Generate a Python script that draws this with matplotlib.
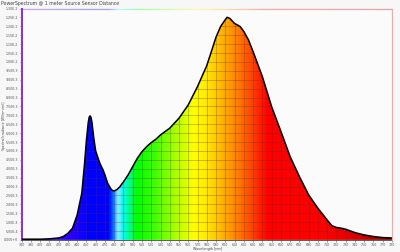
import matplotlib

matplotlib.use("Agg")
import matplotlib.pyplot as plt
import numpy as np
from matplotlib.colors import LinearSegmentedColormap
from matplotlib.patches import Polygon
from matplotlib.collections import LineCollection

# spectrum (wavelength nm, W/(m^2 nm))
wavelength = [380, 390, 400, 410, 420, 425, 430, 435, 440, 445, 448, 450, 452,
              453, 454, 455, 456, 458, 460, 463, 465, 468, 470, 473, 476, 478,
              480, 483, 486, 490, 495, 500, 505, 510, 515, 520, 525, 530, 540,
              550, 560, 570, 580, 590, 595, 600, 602, 605, 610, 613, 616, 620,
              625, 630, 640, 650, 660, 670, 680, 690, 700, 710, 715, 720, 725,
              730, 740, 750, 760, 770, 780]
irradiance = [0.00004, 0.00004, 0.00004, 0.00006, 0.00011, 0.00019, 0.00037,
              0.00066, 0.00140, 0.00262, 0.00430, 0.00560, 0.00660, 0.00690,
              0.00697, 0.00688, 0.00660, 0.00570, 0.00500, 0.00452, 0.00425,
              0.00393, 0.00365, 0.00318, 0.00290, 0.00278, 0.00275, 0.00283,
              0.00298, 0.00326, 0.00365, 0.00412, 0.00459, 0.00496, 0.00524,
              0.00547, 0.00566, 0.00590, 0.00628, 0.00684, 0.00759, 0.00862,
              0.00980, 0.01140, 0.01200, 0.01238, 0.01251, 0.01244, 0.01216,
              0.01208, 0.01199, 0.01171, 0.01124, 0.01058, 0.00918, 0.00749,
              0.00610, 0.00468, 0.00356, 0.00253, 0.00178, 0.00112, 0.00080,
              0.00070, 0.00066, 0.00060, 0.00041, 0.00028, 0.00019, 0.00013,
              0.00011]

x_ticks = list(range(380, 790, 10))
y_ticks = [i * 5e-4 for i in range(27)]

title = "PowerSpectrum @ 1 meter Source Sensor Distance"
x_label = "Wavelength [nm]"
y_label = "Spectral Irradiance [W/(m\u00b2\u00b7nm)]"

# colour stops for the visible spectrum
spectrum_stops = [
    (380, "#6a00c8"), (420, "#3a00ff"), (440, "#1800ff"), (450, "#0000ff"),
    (473, "#0000ff"), (478, "#0070ff"), (483, "#90eaff"), (488, "#00ffff"),
    (495, "#00ff90"), (503, "#00ff00"), (520, "#30ff00"), (545, "#a8ff00"),
    (565, "#ffff00"), (578, "#ffec00"), (592, "#ffc000"), (607, "#ff9000"),
    (625, "#ff5000"), (645, "#ff0000"), (705, "#ff0000"), (740, "#dd0000"),
    (780, "#8a0000"),
]


def spectrum_cmap():
    lo, hi = spectrum_stops[0][0], spectrum_stops[-1][0]
    stops = [((w - lo) / (hi - lo), c) for w, c in spectrum_stops]
    return LinearSegmentedColormap.from_list("spectrum", stops)


def sci_label(t):
    if t == 0:
        return "0.00E+0"
    e = int(np.floor(np.log10(t) + 1e-9))
    return "{:.2f}E{}".format(t / 10 ** e, e)


fig = plt.figure(figsize=(4.0, 2.52), dpi=100, facecolor="#f7f7f7")
ax = fig.add_axes([0.054, 0.048, 0.926, 0.918], facecolor="#fbfbfb")

x = np.array(wavelength)
y = np.array(irradiance)
ymax = 0.013

# clip patch under the curve
poly_xy = np.vstack([np.column_stack([x, y]), [[x[-1], 0], [x[0], 0]]])
clip = Polygon(poly_xy, closed=True, facecolor="none", edgecolor="none")
ax.add_patch(clip)

cmap = spectrum_cmap()
grad = np.linspace(0, 1, 800)[None, :]
im = ax.imshow(grad, cmap=cmap, aspect="auto", extent=[380, 780, 0, ymax],
               origin="lower", interpolation="bilinear", zorder=1)
im.set_clip_path(clip)

vl = ax.vlines(x_ticks, 0, ymax, colors="#5a3030", linewidth=0.45, alpha=0.45,
               zorder=2)
hl = ax.hlines(y_ticks, 380, 780, colors="#5a3030", linewidth=0.45, alpha=0.45,
               zorder=2)
vl.set_clip_path(clip)
hl.set_clip_path(clip)

ax.plot(x, y, color="black", linewidth=1.1, zorder=3, solid_joinstyle="round",
        solid_capstyle="round")

ax.set_xlim(380, 780)
ax.set_ylim(0, ymax)
ax.set_xticks(x_ticks)
ax.set_xticklabels([str(t) for t in x_ticks])
ax.set_yticks(y_ticks)
ax.set_yticklabels([sci_label(t) for t in y_ticks])
ax.tick_params(labelsize=2.3, length=1.5, width=0.4, pad=0.8, colors="#555555")

# coloured frame
for side in ("top", "right"):
    ax.spines[side].set_visible(False)
ax.spines["left"].set_color("#8a2be2")
ax.spines["left"].set_linewidth(1.4)
ax.spines["bottom"].set_color("#444444")
ax.spines["bottom"].set_linewidth(0.6)

tx = np.linspace(380, 780, 200)
segs = [[(tx[i], ymax), (tx[i + 1], ymax)] for i in range(len(tx) - 1)]
top_line = LineCollection(segs, colors=cmap(np.linspace(0, 1, len(segs))),
                          linewidth=0.9, alpha=0.35, clip_on=False, zorder=4)
ax.add_collection(top_line)
ax.plot([780, 780], [0, ymax], color="#f0a8a8", linewidth=0.9, clip_on=False,
        zorder=4)

fig.text(0.003, 0.996, title, fontsize=3.3, va="top", ha="left", color="#444444")
fig.text(0.52, 0.004, x_label, fontsize=2.4, va="bottom", ha="center",
         color="#444444")
fig.text(0.009, 0.5, y_label, fontsize=2.2, va="center", ha="center",
         rotation=90, color="#444444")

fig.savefig("out.png", dpi=100, facecolor=fig.get_facecolor())
